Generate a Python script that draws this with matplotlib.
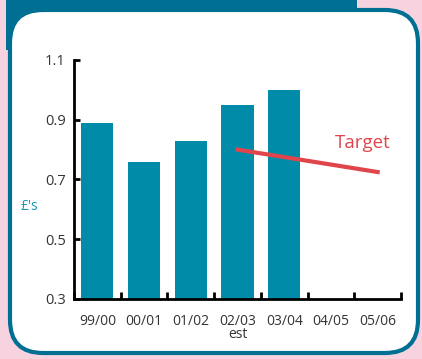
import matplotlib
matplotlib.use("Agg")
import matplotlib.pyplot as plt
from matplotlib.patches import FancyBboxPatch, Rectangle
import numpy as np

categories = ["99/00", "00/01", "01/02", "02/03\nest", "03/04", "04/05", "05/06"]
values = [0.89, 0.76, 0.83, 0.95, 1.00]
target_idx = [3, 4, 5, 6]
target_vals = [0.80, 0.775, 0.75, 0.725]
yticks = [0.3, 0.5, 0.7, 0.9, 1.1]

W, H = 422, 359
fig = plt.figure(figsize=(W/100, H/100), dpi=100)
fig.patch.set_facecolor("#f7d3df")
plt.rcParams['font.family'] = ['Open Sans', 'DejaVu Sans']

teal_dark = "#006f94"
tr = fig.dpi_scale_trans
# top band (pixel coords /100 -> inches)
fig.patches.append(Rectangle((6/100, (H-50)/100), (357-6)/100, 50/100, transform=tr,
                             facecolor=teal_dark, edgecolor="none", zorder=0))
# rounded white panel
fig.patches.append(FancyBboxPatch((10/100, 6/100), (418-10)/100, (H-10-6)/100,
                                  boxstyle="round,pad=0,rounding_size=0.33",
                                  transform=tr, facecolor="white",
                                  edgecolor=teal_dark, linewidth=3, zorder=1))

ax = fig.add_axes([74/W, 1 - 299/H, (401-74)/W, (299-60)/H])
ax.set_zorder(5)
ax.set_facecolor("none")
x = np.arange(len(categories))
ax.bar(x[:len(values)], [v - 0.3 for v in values], bottom=0.3, width=0.69, color="#008ba8")
ax.plot(target_idx, target_vals, color="#e0454b", linewidth=3, solid_capstyle="projecting")
ax.text(5.69, 0.823, "Target", color="#e0454b", fontsize=13.5, ha="center", va="center")

ax.set_xlim(-0.5, 6.5)
ax.set_ylim(0.3, 1.1)
ax.set_yticks(yticks)
ax.set_yticklabels([f"{t:.1f}" for t in yticks], fontsize=10.5, color="#333333")
ax.set_xticks(np.arange(-0.5, 7, 1))
ax.set_xticklabels([])
ax.set_xticks(x, minor=True)
ax.set_xticklabels(categories, minor=True, fontsize=10, color="#333333", linespacing=0.75)
ax.tick_params(axis="x", which="minor", length=0, pad=11)
ax.tick_params(axis="x", which="major", direction="in", length=5, width=2)
ax.tick_params(axis="y", direction="in", length=4, width=2, pad=6)
for s in ["top", "right"]:
    ax.spines[s].set_visible(False)
for s in ["left", "bottom"]:
    ax.spines[s].set_linewidth(2)
ax.text(-0.138, 0.385, "£'s", transform=ax.transAxes, color="#1a9ab8", fontsize=10,
        ha="center", va="center")

fig.savefig("out.png", dpi=100, facecolor=fig.get_facecolor())
